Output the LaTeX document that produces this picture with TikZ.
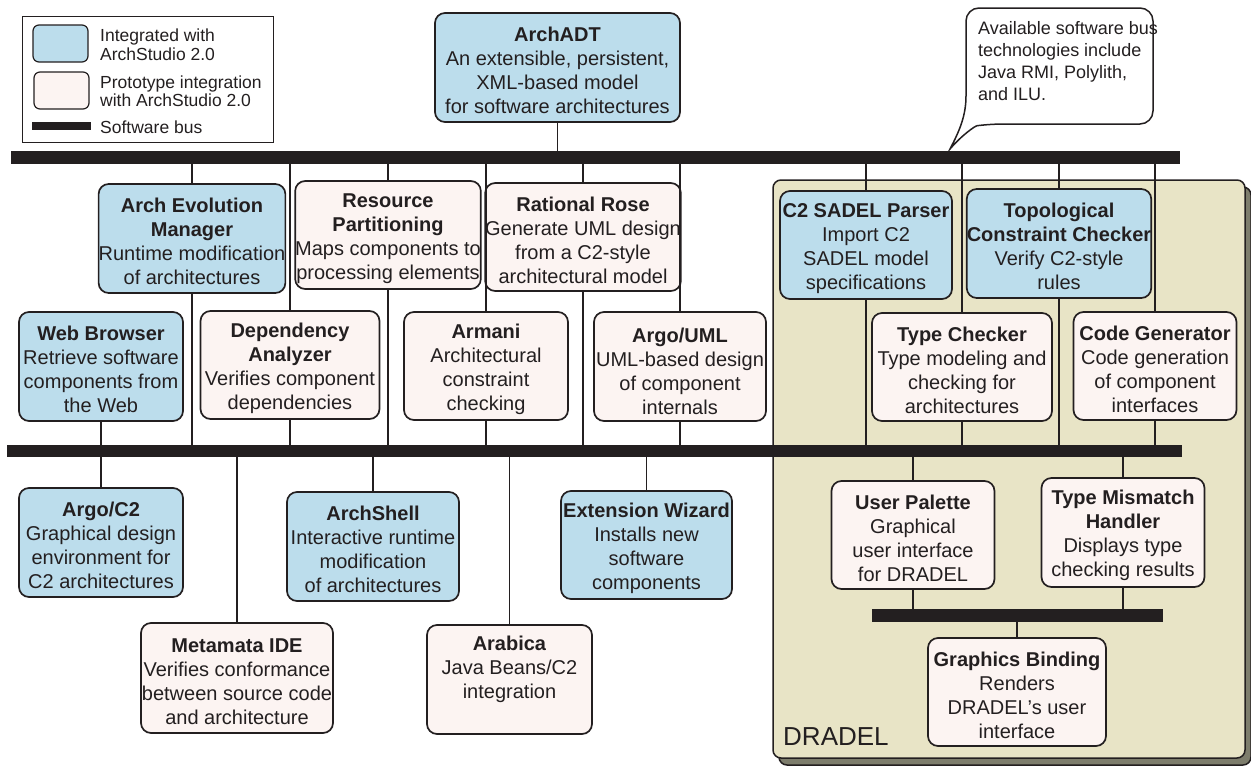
\documentclass[tikz,border=0pt]{standalone}
\usepackage{fontspec}
\setmainfont{Liberation Sans}
\usetikzlibrary{shadows}
\definecolor{intblue}{HTML}{BCDDEC}
\definecolor{protopink}{HTML}{FCF4F2}
\definecolor{beige}{HTML}{E8E4C6}
\definecolor{shadowclr}{HTML}{7D7D6C}
\definecolor{lineclr}{HTML}{231F20}
\newcommand{\tstrut}{\rule{0pt}{21pt}}
\newcommand{\ttl}[1]{\tstrut\textbf{#1}}
\tikzset{
  comp/.style={draw=lineclr, line width=1.7pt, rounded corners=10pt, inner sep=0pt,
    align=center, font=\fontsize{20}{24}\selectfont, text=lineclr},
  integ/.style={comp, fill=intblue},
  proto/.style={comp, fill=protopink},
  bus/.style={rectangle, fill=lineclr, draw=none, inner sep=0pt},
  conn/.style={draw=lineclr, line width=1.5pt},
  legtext/.style={align=left, inner sep=0pt, font=\fontsize{17.5}{18.5}\selectfont, text=lineclr},
  sz/.style 2 args={minimum width=#1pt, minimum height=#2pt},
}
\begin{document}
\begin{tikzpicture}[x=1pt,y=-1pt]
\useasboundingbox (0,0) rectangle (1251,766);

% legend
\node[draw=lineclr, line width=0.9pt, inner sep=0pt, sz={251}{126}] (legend) at (147.5,79) {};
\node[draw=lineclr, fill=intblue, line width=1.2pt, rounded corners=6pt, inner sep=0pt, sz={55}{37}] (legblue) at (60.5,43.5) {};
\node[draw=lineclr, fill=protopink, line width=1.2pt, rounded corners=6pt, inner sep=0pt, sz={55}{37}] (legpink) at (61.5,90.5) {};
\node[bus, sz={59}{8}] (legbus) at (61.5,126) {};
\node[legtext, anchor=north west] (legt1) at (100,29) {Integrated with\\ArchStudio 2.0};
\node[legtext, anchor=north west] (legt2) at (100,75.5) {Prototype integration\\with ArchStudio 2.0};
\node[legtext, anchor=base west] (legt3) at (100,133) {Software bus};

% callout
\draw[lineclr, line width=1.5pt, fill=white] (950,149) .. controls (960,130) and (966,115) .. (966,96) [rounded corners=13pt] -- (966,8) -- (1153,8) -- (1153,124) -- (990,124) [sharp corners] .. controls (975,126) and (962,135) .. (950,149) -- cycle;
\node[align=left, inner sep=0pt, anchor=north west, font=\fontsize{18}{22}\selectfont, text=lineclr] (note) at (978,21) {Available software bus\\technologies include\\Java RMI, Polylith,\\and ILU.};

% DRADEL container
\node[draw=lineclr, line width=1.5pt, fill=beige, rounded corners=8pt, inner sep=0pt, sz={472}{578},
  drop shadow={shadow xshift=6pt, shadow yshift=-7pt, fill=shadowclr, draw=lineclr, opacity=1}] (dradel) at (1009,469) {};
\node[anchor=base west, inner sep=0pt, font=\fontsize{26}{30}\selectfont, text=lineclr] (dradellabel) at (783,745) {DRADEL};

% buses
\node[bus, sz={1169}{13}] (topbus) at (595.5,157.5) {};
\node[bus, sz={1175}{12}] (lowbus) at (594.5,451) {};
\node[bus, sz={291}{13}] (smallbus) at (1017.5,615.5) {};

% components
\node[integ, sz={245}{109}] (archadt) at (557.5,67.5) {\ttl{ArchADT}\\An extensible, persistent,\\XML-based model\\for software architectures};
\node[integ, sz={179}{109}] (aem) at (192,238.5) {\ttl{Arch Evolution}\\\textbf{Manager}\\Runtime modification\\of architectures};
\node[proto, sz={180}{108}] (rp) at (388,235) {\ttl{Resource}\\\textbf{Partitioning}\\Maps components to\\processing elements};
\node[proto, sz={182}{108}] (rose) at (583,237) {\ttl{Rational Rose}\\Generate UML design\\from a C2-style\\architectural model};
\node[integ, sz={164}{109}] (web) at (101,366.5) {\ttl{Web Browser}\\Retrieve software\\components from\\the Web};
\node[proto, sz={179}{108}] (dep) at (290,365) {\ttl{Dependency}\\\textbf{Analyzer}\\Verifies component\\dependencies};
\node[proto, sz={164}{108}] (armani) at (486,366) {\ttl{Armani}\\Architectural\\constraint\\checking};
\node[proto, sz={172}{109}] (argouml) at (680,366.5) {\rule{0pt}{25pt}\textbf{Argo/UML}\\UML-based design\\of component\\internals};
\node[integ, sz={172}{108}] (sadel) at (866,245) {\ttl{C2 SADEL Parser}\\Import C2\\SADEL model\\specifications};
\node[integ, sz={168}{109}] (topo) at (1059,243.5) {\ttl{Topological}\\\textbf{Constraint Checker}\\Verify C2-style\\rules};
\node[proto, sz={180}{108}] (tc) at (962,367) {\ttl{Type Checker}\\Type modeling and\\checking for\\architectures};
\node[proto, sz={163}{108}] (cg) at (1155,366) {\ttl{Code Generator}\\Code generation\\of component\\interfaces};
\node[integ, sz={164}{109}] (argoc2) at (101,542.5) {\ttl{Argo/C2}\\Graphical design\\environment for\\C2 architectures};
\node[integ, sz={172}{109}] (shell) at (373,546.5) {\ttl{ArchShell}\\Interactive runtime\\modification\\of architectures};
\node[integ, sz={171}{108}] (wizard) at (646.5,545) {\ttl{Extension Wizard}\\Installs new\\software\\components};
\node[proto, sz={192}{110}] (metamata) at (237,678) {\ttl{Metamata IDE}\\Verifies conformance\\between source code\\and architecture};
\node[proto, sz={165}{109}] (arabica) at (509.5,679.5) {\textbf{Arabica}\\Java Beans/C2\\integration\\\mbox{}};
\node[proto, sz={163}{108}] (palette) at (913,535) {\ttl{User Palette}\\Graphical\\user interface\\for DRADEL};
\node[proto, sz={163}{109}] (mismatch) at (1123,532.5) {\ttl{Type Mismatch}\\\textbf{Handler}\\Displays type\\checking results};
\node[proto, sz={178}{108}] (gb) at (1017,692) {\ttl{Graphics Binding}\\Renders\\DRADEL's user\\interface};

% connectors to top bus
\draw[conn] (archadt.south) -- (archadt.south |- topbus.north);
\foreach \n in {aem,rp,rose,dep,armani,argouml,sadel,topo,tc,cg}
  \draw[conn] (\n.north) -- (\n.north |- topbus.south);
% connectors to lower bus from above
\foreach \n in {aem,rp,rose,web,dep,armani,argouml,sadel,topo,tc,cg}
  \draw[conn] (\n.south) -- (\n.south |- lowbus.north);
% connectors from lower bus down
\foreach \n in {argoc2,shell,wizard,metamata,arabica,palette,mismatch}
  \draw[conn] (\n.north) -- (\n.north |- lowbus.south);
% small bus
\foreach \n in {palette,mismatch}
  \draw[conn] (\n.south) -- (\n.south |- smallbus.north);
\draw[conn] (gb.north) -- (gb.north |- smallbus.south);
\end{tikzpicture}
\end{document}
